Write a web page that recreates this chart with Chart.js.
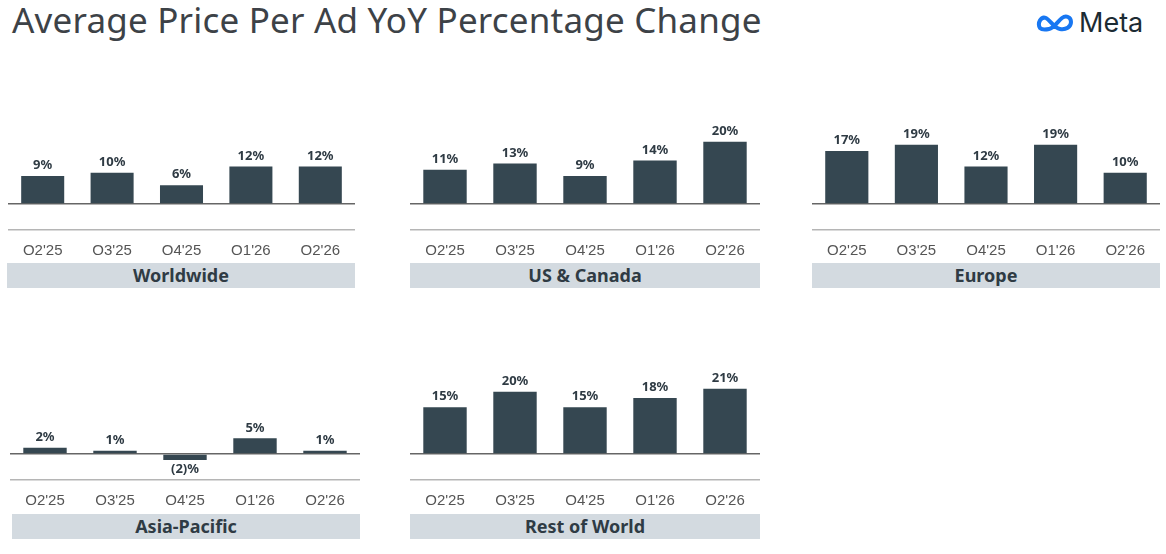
<!DOCTYPE html>
<html><head><meta charset="utf-8">
<script src="https://cdn.jsdelivr.net/npm/chart.js@4/dist/chart.umd.min.js"></script>
<style>
body{margin:0;width:1166px;height:554px;background:#fff;font-family:"Noto Sans",sans-serif;position:relative;overflow:hidden}
h1{position:absolute;left:12px;top:-4px;margin:0;font-weight:400;font-size:35px;color:#3d4247;letter-spacing:0.2px}
.logo{position:absolute;left:1036px;top:6px;display:flex;align-items:center;font-size:27px;color:#1c2b33;font-family:Inter,"Noto Sans",sans-serif}
.band{position:absolute;height:25px;background:#d3dae0;color:#2f3b44;font-weight:700;font-size:18px;text-align:center;line-height:25px}
.box{position:absolute;height:135px}
</style></head><body>
<h1>Average Price Per Ad YoY Percentage Change</h1>
<div class="logo"><svg width="40" height="20" viewBox="0 0 40 20"><path d="M4 15 C1 10 5 3 10 5 C14 7 18 15 24 16 C30 17 35 14 35 9 C35 4 30 2 26 5 C22 8 18 15 13 16 C8 17 5 16 4 15Z" fill="none" stroke="#1877f2" stroke-width="4"/></svg><span style="margin-left:3px">Meta</span></div>

<div class="box" style="left:8px;top:120px;width:347px"><canvas id="c0"></canvas></div>
<div class="box" style="left:410px;top:120px;width:350px"><canvas id="c1"></canvas></div>
<div class="box" style="left:812px;top:120px;width:348px"><canvas id="c2"></canvas></div>
<div class="box" style="left:10px;top:370px;width:350px"><canvas id="c3"></canvas></div>
<div class="box" style="left:410px;top:370px;width:350px"><canvas id="c4"></canvas></div>

<div class="band" style="left:7px;top:263px;width:348px">Worldwide</div>
<div class="band" style="left:410px;top:263px;width:350px">US &amp; Canada</div>
<div class="band" style="left:812px;top:263px;width:348px">Europe</div>
<div class="band" style="left:12px;top:514px;width:348px">Asia-Pacific</div>
<div class="band" style="left:410px;top:514px;width:350px">Rest of World</div>

<script>
const quarters = ["Q2'25", "Q3'25", "Q4'25", "Q1'26", "Q2'26"];
const worldwide = [9, 10, 6, 12, 12];
const usCanada = [11, 13, 9, 14, 20];
const europe = [17, 19, 12, 19, 10];
const asiaPacific = [2, 1, -2, 5, 1];
const restOfWorld = [15, 20, 15, 18, 21];

const fmt = v => v < 0 ? '(' + (-v) + ')%' : v + '%';

const labelPlugin = {
    id: 'barLabels',
    afterDatasetsDraw(chart) {
        const c = chart.ctx;
        const meta = chart.getDatasetMeta(0);
        c.save();
        c.font = 'bold 13px "Noto Sans", sans-serif';
        c.fillStyle = '#2f3b44';
        c.textAlign = 'center';
        meta.data.forEach((bar, i) => {
            const v = chart.data.datasets[0].data[i];
            if (v < 0) {
                c.textBaseline = 'top';
                c.fillText(fmt(v), bar.x, bar.y + 3);
            } else {
                c.textBaseline = 'bottom';
                c.fillText(fmt(v), bar.x, bar.y - 4);
            }
        });
        c.restore();
    }
};

function makeChart(id, values) {
    new Chart(document.getElementById(id), {
        type: 'bar',
        data: {
            labels: quarters,
            datasets: [{ data: values, backgroundColor: '#354751', barPercentage: 0.62, categoryPercentage: 1 }]
        },
        options: {
            responsive: true,
            maintainAspectRatio: false,
            animation: false,
            layout: { padding: 0 },
            plugins: { legend: { display: false }, tooltip: { enabled: false } },
            scales: {
                x: {
                    grid: { display: false },
                    border: { display: true, color: '#b5b5b5', width: 1.5 },
                    ticks: { color: '#555', font: { size: 15 }, padding: 4 },
                    afterFit(s) { s.height = 25; }
                },
                y: {
                    display: true,
                    min: -8.4, max: 27,
                    afterFit(s) { s.width = 0; },
                    ticks: { display: false, stepSize: 8.4 },
                    border: { display: false },
                    grid: {
                        drawTicks: false,
                        color: ctx => ctx.tick.value === 0 ? '#666' : 'rgba(0,0,0,0)',
                        lineWidth: 1.5
                    }
                }
            }
        },
        plugins: [labelPlugin]
    });
}

makeChart('c0', worldwide);
makeChart('c1', usCanada);
makeChart('c2', europe);
makeChart('c3', asiaPacific);
makeChart('c4', restOfWorld);
</script>
</body></html>
